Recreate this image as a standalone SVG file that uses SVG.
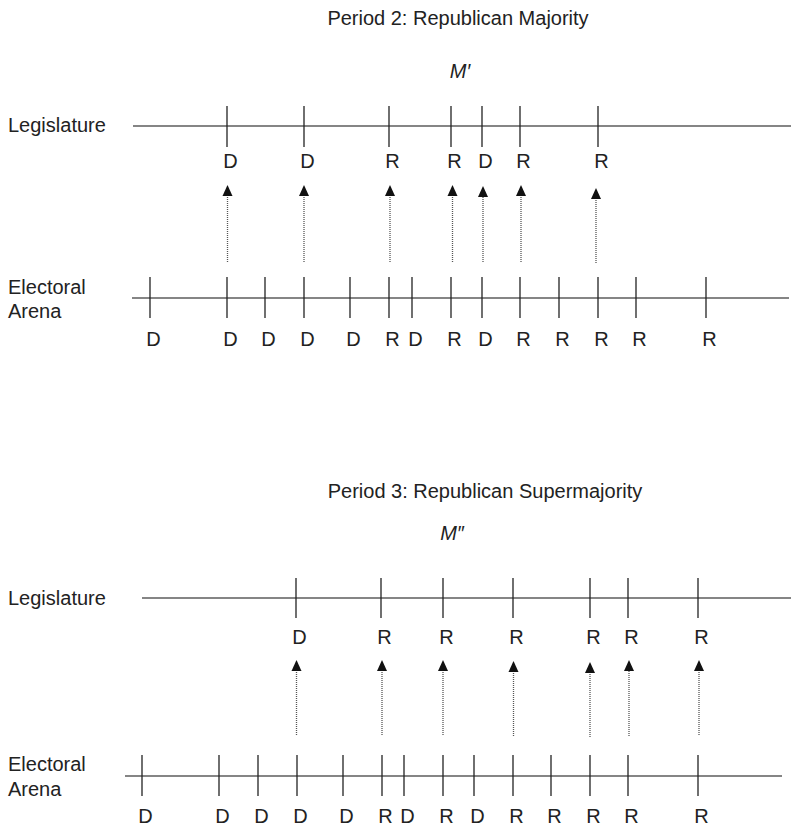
<svg xmlns="http://www.w3.org/2000/svg" xmlns:xlink="http://www.w3.org/1999/xlink" width="791" height="829" viewBox="0 0 791 829">
<style>
text{font-family:"Liberation Sans",Arial,sans-serif;font-size:20px;fill:#222}
.m{text-anchor:middle}
.axis{stroke:#858585;stroke-width:2.2;fill:none}
.tick{stroke:#222;stroke-width:1.3}
.dot{stroke:#555;stroke-width:1.3;stroke-dasharray:1 1}
.head{fill:#111}
.it{font-style:italic}
</style>
<defs>
<polygon id="ah" class="head" points="0,0 5,11 -5,11"/>
</defs>
<rect width="791" height="829" fill="#fff"/>

<g id="period2">
<text class="m" x="458" y="25">Period 2: Republican Majority</text>
<text class="m it" x="460" y="78">M′</text>
<g id="p2-legislature">
<text x="8" y="132">Legislature</text>
<line class="axis" x1="133" y1="126" x2="791" y2="126"/>
<g class="ticks">
<line class="tick" x1="227" y1="106" x2="227" y2="147"/>
<line class="tick" x1="304" y1="106" x2="304" y2="147"/>
<line class="tick" x1="389" y1="106" x2="389" y2="147"/>
<line class="tick" x1="451" y1="106" x2="451" y2="147"/>
<line class="tick" x1="482" y1="106" x2="482" y2="147"/>
<line class="tick" x1="520" y1="106" x2="520" y2="147"/>
<line class="tick" x1="598" y1="106" x2="598" y2="147"/>
</g>
<text class="m" x="230.5" y="168">D</text>
<text class="m" x="307.5" y="168">D</text>
<text class="m" x="392.5" y="168">R</text>
<text class="m" x="454.5" y="168">R</text>
<text class="m" x="485.5" y="168">D</text>
<text class="m" x="523.5" y="168">R</text>
<text class="m" x="601.5" y="168">R</text>
</g>
<g id="p2-electoral">
<text x="8" y="294">Electoral</text>
<text x="8" y="318">Arena</text>
<line class="axis" x1="132" y1="298" x2="789" y2="298"/>
<g class="ticks">
<line class="tick" x1="150" y1="277" x2="150" y2="318"/>
<line class="tick" x1="227" y1="277" x2="227" y2="318"/>
<line class="tick" x1="265" y1="277" x2="265" y2="318"/>
<line class="tick" x1="304" y1="277" x2="304" y2="318"/>
<line class="tick" x1="350" y1="277" x2="350" y2="318"/>
<line class="tick" x1="389" y1="277" x2="389" y2="318"/>
<line class="tick" x1="412" y1="277" x2="412" y2="318"/>
<line class="tick" x1="451" y1="277" x2="451" y2="318"/>
<line class="tick" x1="482" y1="277" x2="482" y2="318"/>
<line class="tick" x1="520" y1="277" x2="520" y2="318"/>
<line class="tick" x1="559" y1="277" x2="559" y2="318"/>
<line class="tick" x1="598" y1="277" x2="598" y2="318"/>
<line class="tick" x1="636" y1="277" x2="636" y2="318"/>
<line class="tick" x1="706" y1="277" x2="706" y2="318"/>
</g>
<text class="m" x="153.5" y="346">D</text>
<text class="m" x="230.5" y="346">D</text>
<text class="m" x="268.5" y="346">D</text>
<text class="m" x="307.5" y="346">D</text>
<text class="m" x="353.5" y="346">D</text>
<text class="m" x="392.5" y="346">R</text>
<text class="m" x="415.5" y="346">D</text>
<text class="m" x="454.5" y="346">R</text>
<text class="m" x="485.5" y="346">D</text>
<text class="m" x="523.5" y="346">R</text>
<text class="m" x="562.5" y="346">R</text>
<text class="m" x="601.5" y="346">R</text>
<text class="m" x="639.5" y="346">R</text>
<text class="m" x="709.5" y="346">R</text>
</g>
</g>

<g id="period3">
<text class="m" x="485" y="498">Period 3: Republican Supermajority</text>
<text class="m it" x="452" y="540">M″</text>
<g id="p3-legislature">
<text x="8" y="605">Legislature</text>
<line class="axis" x1="142" y1="598" x2="791" y2="598"/>
<g class="ticks">
<line class="tick" x1="296" y1="578" x2="296" y2="618"/>
<line class="tick" x1="381" y1="578" x2="381" y2="618"/>
<line class="tick" x1="443" y1="578" x2="443" y2="618"/>
<line class="tick" x1="513" y1="578" x2="513" y2="618"/>
<line class="tick" x1="590" y1="578" x2="590" y2="618"/>
<line class="tick" x1="628" y1="578" x2="628" y2="618"/>
<line class="tick" x1="698" y1="578" x2="698" y2="618"/>
</g>
<text class="m" x="299.5" y="644">D</text>
<text class="m" x="384.5" y="644">R</text>
<text class="m" x="446.5" y="644">R</text>
<text class="m" x="516.5" y="644">R</text>
<text class="m" x="593.5" y="644">R</text>
<text class="m" x="631.5" y="644">R</text>
<text class="m" x="701.5" y="644">R</text>
</g>
<g id="p3-electoral">
<text x="8" y="771">Electoral</text>
<text x="8" y="796">Arena</text>
<line class="axis" x1="125" y1="776" x2="782" y2="776"/>
<g class="ticks">
<line class="tick" x1="142" y1="755" x2="142" y2="796"/>
<line class="tick" x1="219" y1="755" x2="219" y2="796"/>
<line class="tick" x1="258" y1="755" x2="258" y2="796"/>
<line class="tick" x1="297" y1="755" x2="297" y2="796"/>
<line class="tick" x1="343" y1="755" x2="343" y2="796"/>
<line class="tick" x1="382" y1="755" x2="382" y2="796"/>
<line class="tick" x1="404" y1="755" x2="404" y2="796"/>
<line class="tick" x1="443" y1="755" x2="443" y2="796"/>
<line class="tick" x1="474" y1="755" x2="474" y2="796"/>
<line class="tick" x1="513" y1="755" x2="513" y2="796"/>
<line class="tick" x1="551" y1="755" x2="551" y2="796"/>
<line class="tick" x1="590" y1="755" x2="590" y2="796"/>
<line class="tick" x1="628" y1="755" x2="628" y2="796"/>
<line class="tick" x1="698" y1="755" x2="698" y2="796"/>
</g>
<text class="m" x="145.5" y="823">D</text>
<text class="m" x="222.5" y="823">D</text>
<text class="m" x="261.5" y="823">D</text>
<text class="m" x="300.5" y="823">D</text>
<text class="m" x="346.5" y="823">D</text>
<text class="m" x="385.5" y="823">R</text>
<text class="m" x="407.5" y="823">D</text>
<text class="m" x="446.5" y="823">R</text>
<text class="m" x="477.5" y="823">D</text>
<text class="m" x="516.5" y="823">R</text>
<text class="m" x="554.5" y="823">R</text>
<text class="m" x="593.5" y="823">R</text>
<text class="m" x="631.5" y="823">R</text>
<text class="m" x="701.5" y="823">R</text>
</g>
</g>

<g id="connectors">
<line class="dot" x1="227.5" y1="262" x2="227.5" y2="195"/><use xlink:href="#ah" x="227.5" y="185"/>
<line class="dot" x1="304" y1="262" x2="304" y2="195"/><use xlink:href="#ah" x="304" y="185"/>
<line class="dot" x1="390" y1="262" x2="390" y2="195"/><use xlink:href="#ah" x="390" y="185"/>
<line class="dot" x1="452.5" y1="262" x2="452.5" y2="195"/><use xlink:href="#ah" x="452.5" y="185"/>
<line class="dot" x1="483" y1="262" x2="483" y2="196"/><use xlink:href="#ah" x="483" y="186"/>
<line class="dot" x1="521" y1="262" x2="521" y2="195"/><use xlink:href="#ah" x="521" y="185"/>
<line class="dot" x1="596" y1="263" x2="596" y2="198"/><use xlink:href="#ah" x="596" y="188"/>

<line class="dot" x1="296.5" y1="735" x2="296.5" y2="669"/><use xlink:href="#ah" x="296.5" y="660"/>
<line class="dot" x1="382" y1="735" x2="382" y2="669"/><use xlink:href="#ah" x="382" y="660"/>
<line class="dot" x1="443" y1="735" x2="443" y2="669"/><use xlink:href="#ah" x="443" y="660"/>
<line class="dot" x1="513.5" y1="736" x2="513.5" y2="670"/><use xlink:href="#ah" x="513.5" y="661"/>
<line class="dot" x1="590" y1="737" x2="590" y2="671"/><use xlink:href="#ah" x="590" y="662"/>
<line class="dot" x1="629" y1="736" x2="629" y2="669"/><use xlink:href="#ah" x="629" y="660"/>
<line class="dot" x1="699" y1="735" x2="699" y2="669"/><use xlink:href="#ah" x="699" y="660"/>
</g>
</svg>
